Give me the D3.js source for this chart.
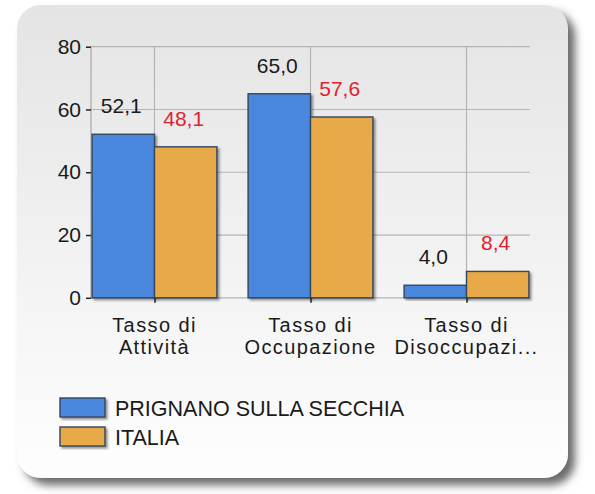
<!DOCTYPE html>
<html>
<head>
<meta charset="utf-8">
<script src="https://cdn.jsdelivr.net/npm/d3@7"></script>
<style>
  html, body { margin: 0; padding: 0; background: #ffffff; }
  svg { display: block; font-family: "Liberation Sans", Arial, sans-serif; }
</style>
</head>
<body>
<svg id="chart" width="595" height="494"></svg>
<script>
const categories = [["Tasso di", "Attività"], ["Tasso di", "Occupazione"], ["Tasso di", "Disoccupazi..."]];
const categoryKeys = ["Tasso di Attività", "Tasso di Occupazione", "Tasso di Disoccupazione"];
const seriesNames = ["PRIGNANO SULLA SECCHIA", "ITALIA"];
const prignanoValues = [52.1, 65.0, 4.0];
const italiaValues = [48.1, 57.6, 8.4];
const yTicks = [0, 20, 40, 60, 80];
const seriesColors = ["#4a88dc", "#e8aa48"];
const labelColors = ["#1a1a1a", "#e0222e"];

const seriesValues = [prignanoValues, italiaValues];
const fmt = v => v.toFixed(1).replace(".", ",");

const svg = d3.select("#chart");
const defs = svg.append("defs");

const grad = defs.append("linearGradient").attr("id", "bg").attr("x1", 0).attr("y1", 0).attr("x2", 0).attr("y2", 1);
grad.append("stop").attr("offset", "0%").attr("stop-color", "#e4e4e4");
grad.append("stop").attr("offset", "100%").attr("stop-color", "#fefefe");

const panelShadow = defs.append("filter").attr("id", "pshadow").attr("x", "-10%").attr("y", "-10%").attr("width", "130%").attr("height", "130%");
panelShadow.append("feDropShadow").attr("dx", 7).attr("dy", 7).attr("stdDeviation", 4)
  .attr("flood-color", "#5a5a5a").attr("flood-opacity", 0.9);

const barShadow = defs.append("filter").attr("id", "bshadow").attr("x", "-10%").attr("y", "-10%").attr("width", "130%").attr("height", "130%");
barShadow.append("feDropShadow").attr("dx", 2).attr("dy", 2).attr("stdDeviation", 1)
  .attr("flood-color", "#333").attr("flood-opacity", 0.5);

// panel
svg.append("rect")
  .attr("x", 17).attr("y", 5).attr("width", 551).attr("height", 473)
  .attr("rx", 24).attr("ry", 24)
  .attr("fill", "url(#bg)")
  .attr("filter", "url(#pshadow)");

const plotLeft = 91, plotRight = 530, plotTop = 46.7, plotBottom = 297.8;

const y = d3.scaleLinear().domain([0, 80]).range([plotBottom, plotTop]);
const x = d3.scalePoint().domain(categoryKeys).range([plotLeft, plotRight]).padding(0.407);
const barW = x.step() * 0.4;
const xs = d3.scaleBand().domain(seriesNames).range([-barW, barW]).padding(0);

const g = svg.append("g");

// horizontal gridlines
g.selectAll("line.hgrid").data(yTicks).join("line")
  .attr("x1", plotLeft).attr("x2", plotRight)
  .attr("y1", d => y(d)).attr("y2", d => y(d))
  .attr("stroke", "#b4b4b4").attr("stroke-width", 1.2);

// vertical gridlines at category centers
g.selectAll("line.vgrid").data(categoryKeys).join("line")
  .attr("x1", d => x(d)).attr("x2", d => x(d))
  .attr("y1", plotTop).attr("y2", plotBottom)
  .attr("stroke", "#b4b4b4").attr("stroke-width", 1.2);

// left axis line
g.append("line").attr("x1", plotLeft).attr("x2", plotLeft).attr("y1", plotTop).attr("y2", plotBottom)
  .attr("stroke", "#a8a8a8").attr("stroke-width", 1.2);

// y axis
const yAxis = d3.axisLeft(y).tickValues(yTicks).tickSize(5).tickPadding(5).tickFormat(d3.format("d"));
const ya = svg.append("g").attr("transform", `translate(${plotLeft},0)`).call(yAxis);
ya.select(".domain").remove();
ya.selectAll(".tick line").attr("stroke", "#222").attr("stroke-width", 1.5);
ya.selectAll(".tick text").attr("font-size", 21).attr("fill", "#1a1a1a")
  .attr("font-family", "'Liberation Sans', Arial, sans-serif");

// bars
const barG = svg.append("g");
seriesNames.forEach((s, si) => {
  barG.selectAll(null).data(categoryKeys).join("rect")
    .attr("x", d => x(d) + xs(s))
    .attr("width", xs.bandwidth())
    .attr("y", (d, i) => y(seriesValues[si][i]))
    .attr("height", (d, i) => y(0) - y(seriesValues[si][i]))
    .attr("fill", seriesColors[si])
    .attr("stroke", "#34465c").attr("stroke-width", 1.4)
    .attr("filter", "url(#bshadow)");
});

// x axis tick marks at category centers
const xAxis = d3.axisBottom(x).tickSize(5).tickFormat("");
const xa = svg.append("g").attr("transform", `translate(0,${plotBottom})`).call(xAxis);
xa.select(".domain").remove();
xa.selectAll(".tick line").attr("stroke", "#222").attr("stroke-width", 1.5);

// category labels (two lines each)
const catG = svg.append("g");
categoryKeys.forEach((k, i) => {
  categories[i].forEach((line, li) => {
    catG.append("text")
      .attr("x", x(k)).attr("y", 331.5 + li * 22)
      .attr("text-anchor", "middle")
      .attr("font-size", 20).attr("letter-spacing", 1.4).attr("fill", "#1a1a1a")
      .text(line);
  });
});

// value labels
const valG = svg.append("g");
seriesNames.forEach((s, si) => {
  valG.selectAll(null).data(categoryKeys).join("text")
    .attr("x", d => x(d) + xs(s) + xs.bandwidth() / 2 - 2)
    .attr("y", (d, i) => y(seriesValues[si][i]) - 21)
    .attr("text-anchor", "middle")
    .attr("font-size", 21)
    .attr("fill", labelColors[si])
    .text((d, i) => fmt(seriesValues[si][i]));
});

// legend
const legend = svg.append("g");
seriesNames.forEach((s, si) => {
  const ly = 398 + si * 29;
  legend.append("rect")
    .attr("x", 60).attr("y", ly).attr("width", 45).attr("height", 19)
    .attr("fill", seriesColors[si])
    .attr("stroke", "#34465c").attr("stroke-width", 1.4)
    .attr("filter", "url(#bshadow)");
  legend.append("text")
    .attr("x", 115).attr("y", ly + 18)
    .attr("font-size", 21.5).attr("fill", "#1a1a1a")
    .text(s);
});
</script>
</body>
</html>
